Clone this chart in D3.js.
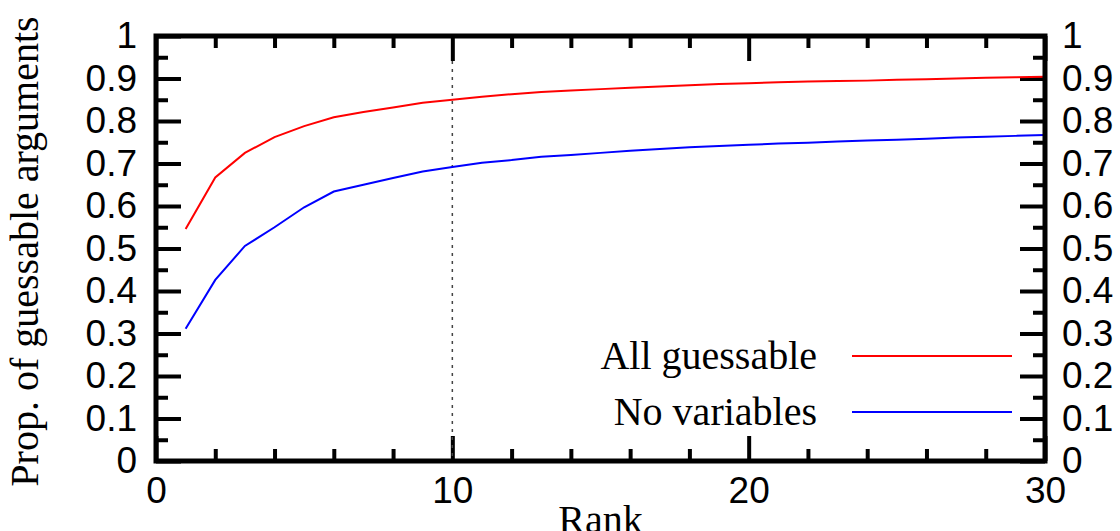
<!DOCTYPE html>
<html>
<head>
<meta charset="utf-8">
<script src="https://cdn.jsdelivr.net/npm/d3@7"></script>
<style>
  body { margin: 0; background: #fff; }
  .tick text { font-family: "Liberation Sans", Arial, sans-serif; font-size: 37px; fill: #000; }
  .serif { font-family: "Liberation Serif", "Times New Roman", serif; font-size: 40px; fill: #000; }
</style>
</head>
<body>
<svg width="1120" height="531"></svg>
<script>
// ranks 1..30
const ranks = d3.range(1, 31);

const allGuessable = [0.546, 0.667, 0.725, 0.762, 0.788, 0.809, 0.821, 0.832, 0.843, 0.850,
    0.857, 0.863, 0.868, 0.872, 0.875, 0.878, 0.881, 0.884, 0.887, 0.889,
    0.891, 0.893, 0.894, 0.895, 0.897, 0.898, 0.900, 0.902, 0.903, 0.904];

const noVariables = [0.311, 0.426, 0.506, 0.550, 0.597, 0.634, 0.650, 0.666, 0.681, 0.692,
    0.702, 0.708, 0.716, 0.720, 0.725, 0.730, 0.734, 0.738, 0.741, 0.744,
    0.747, 0.749, 0.752, 0.754, 0.756, 0.758, 0.761, 0.763, 0.765, 0.767];

const seriesNames = ["All guessable", "No variables"];
const seriesColors = ["#ff0000", "#0000ff"];

const xTicks = [0, 10, 20, 30];
const yTicks = [0, 0.1, 0.2, 0.3, 0.4, 0.5, 0.6, 0.7, 0.8, 0.9, 1];
const markerRank = 10;

const svg = d3.select("svg");
const margin = {top: 36, right: 75, bottom: 70, left: 156};
const W = 1120 - margin.left - margin.right;
const H = 531 - margin.top - margin.bottom;

const x = d3.scaleLinear().domain([0, 30]).range([0, W]);
const y = d3.scaleLinear().domain([0, 1]).range([H, 0]);

const g = svg.append("g").attr("transform", `translate(${margin.left},${margin.top})`);

const fmtY = d => d === 0 || d === 1 ? String(d) : d3.format(".1f")(d);

function styleAxis(sel) {
    sel.select(".domain").remove();
    sel.selectAll(".tick line").attr("stroke", "#000").attr("stroke-width", 4);
}

// minor ticks
const minorX = d3.range(0, 31, 2).filter(v => v % 10 !== 0);
const minorY = d3.range(0.05, 1, 0.1);

g.append("g").attr("transform", `translate(0,${H})`)
    .call(d3.axisBottom(x).tickValues(minorX).tickSize(-12).tickFormat(""))
    .call(styleAxis);
g.append("g")
    .call(d3.axisTop(x).tickValues(minorX).tickSize(-12).tickFormat(""))
    .call(styleAxis);
g.append("g")
    .call(d3.axisLeft(y).tickValues(minorY).tickSize(-12).tickFormat(""))
    .call(styleAxis);
g.append("g").attr("transform", `translate(${W},0)`)
    .call(d3.axisRight(y).tickValues(minorY).tickSize(-12).tickFormat(""))
    .call(styleAxis);

// major ticks with labels
g.append("g").attr("transform", `translate(0,${H})`)
    .call(d3.axisBottom(x).tickValues(xTicks).tickSize(-25).tickPadding(16).tickFormat(d3.format("d")))
    .call(styleAxis);
g.append("g")
    .call(d3.axisTop(x).tickValues(xTicks).tickSize(-25).tickFormat(""))
    .call(styleAxis);
g.append("g")
    .call(d3.axisLeft(y).tickValues(yTicks).tickSize(-25).tickPadding(19).tickFormat(fmtY))
    .call(styleAxis);
g.append("g").attr("transform", `translate(${W},0)`)
    .call(d3.axisRight(y).tickValues(yTicks).tickSize(-25).tickPadding(17).tickFormat(fmtY))
    .call(styleAxis);

// dotted marker at rank 10
g.append("line")
    .attr("x1", x(markerRank)).attr("x2", x(markerRank))
    .attr("y1", 25).attr("y2", H)
    .attr("stroke", "#444").attr("stroke-width", 1.5)
    .attr("stroke-dasharray", "3,5");

// lines
const line = d3.line().x((d, i) => x(ranks[i])).y(d => y(d));
[allGuessable, noVariables].forEach((vals, i) => {
    g.append("path")
        .datum(vals)
        .attr("fill", "none")
        .attr("stroke", seriesColors[i])
        .attr("stroke-width", 2)
        .attr("d", line);
});

// frame
g.append("rect")
    .attr("width", W).attr("height", H)
    .attr("fill", "none").attr("stroke", "#000").attr("stroke-width", 5);

// legend
const legendY = [320, 376];
seriesNames.forEach((name, i) => {
    g.append("text").attr("class", "serif")
        .attr("x", 661).attr("y", legendY[i] + 13)
        .attr("text-anchor", "end")
        .text(name);
    g.append("line")
        .attr("x1", 696).attr("x2", 856)
        .attr("y1", legendY[i]).attr("y2", legendY[i])
        .attr("stroke", seriesColors[i]).attr("stroke-width", 2);
});

// axis titles
svg.append("text").attr("class", "serif")
    .attr("transform", `translate(38,${margin.top + H / 2 + 3}) rotate(-90)`)
    .attr("text-anchor", "middle")
    .text("Prop. of guessable arguments");

svg.append("text").attr("class", "serif")
    .attr("x", margin.left + W / 2).attr("y", 533)
    .attr("text-anchor", "middle")
    .text("Rank");
</script>
</body>
</html>
